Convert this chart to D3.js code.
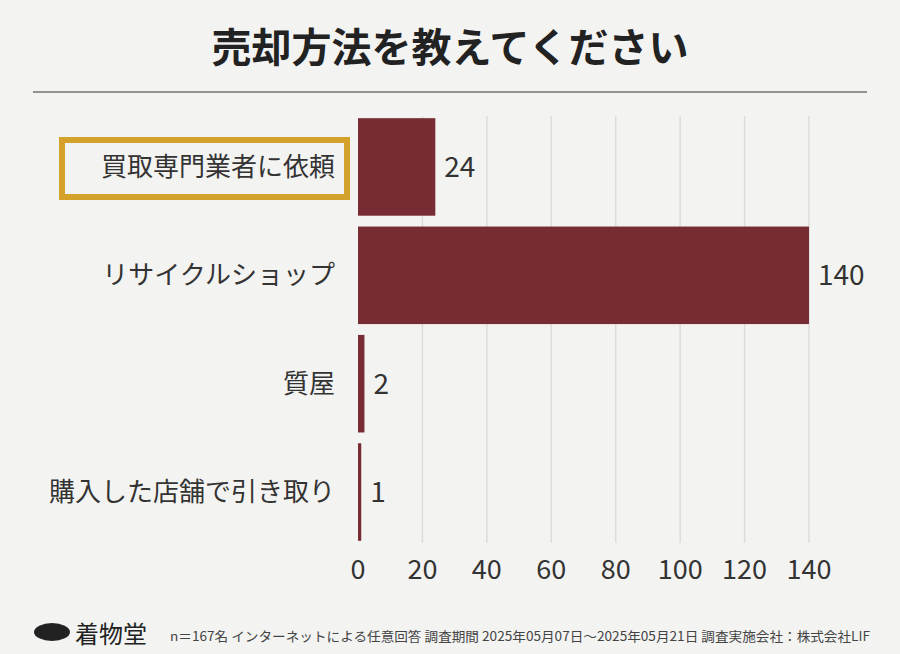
<!DOCTYPE html><html><head><meta charset="utf-8"><script src="https://cdn.jsdelivr.net/npm/d3@7"></script>
<style>body{margin:0;background:#f3f3f2}</style></head><body><svg id="c" width="900" height="654"></svg>
<script>
const categories=["買取専門業者に依頼","リサイクルショップ","質屋","購入した店舗で引き取り"];
const values=[24,140,2,1];
const ticks=[0,20,40,60,80,100,120,140];
const title="売却方法を教えてください";
const footnote="n＝167名 インターネットによる任意回答 調査期間  2025年05月07日～2025年05月21日 調査実施会社：株式会社LIF";
const svg=d3.select("#c");
const F="'Noto Sans CJK JP','Noto Sans',sans-serif";
svg.append("rect").attr("width",900).attr("height",654).attr("fill","#f3f3f2");
svg.append("text").attr("x",450).attr("y",62).attr("text-anchor","middle").attr("font-family",F).attr("font-weight",700).attr("font-size",40).attr("fill","#222").text(title);
svg.append("line").attr("x1",33).attr("x2",867).attr("y1",92).attr("y2",92).attr("stroke","#333").attr("stroke-width",1);
const x=d3.scaleLinear().domain([0,140]).range([358,809]);
const y=d3.scaleBand().domain(categories).range([116,543]).paddingInner(0.1).paddingOuter(0.02);
svg.append("g").selectAll("line").data(ticks.slice(1)).join("line").attr("x1",d=>x(d)).attr("x2",d=>x(d)).attr("y1",116).attr("y2",543).attr("stroke","#dcdcdc").attr("stroke-width",1.5);
svg.append("g").selectAll("rect").data(values).join("rect").attr("x",x(0)).attr("y",(d,i)=>y(categories[i])).attr("width",d=>x(d)-x(0)).attr("height",y.bandwidth()).attr("fill","#772b32");
svg.append("g").selectAll("text").data(values).join("text").attr("x",d=>x(d)+9).attr("y",(d,i)=>y(categories[i])+y.bandwidth()/2+10).attr("font-family",F).attr("font-size",28).attr("fill","#333").text(d=>d);
svg.append("rect").attr("x",62).attr("y",140).attr("width",285).attr("height",57).attr("fill","none").attr("stroke","#d4a12a").attr("stroke-width",6);
svg.append("g").selectAll("text").data(categories).join("text").attr("x",335).attr("y",d=>y(d)+y.bandwidth()/2+9).attr("text-anchor","end").attr("font-family",F).attr("font-size",26).attr("fill","#333").text(d=>d);
svg.append("g").selectAll("text").data(ticks).join("text").attr("x",d=>x(d)).attr("y",579).attr("text-anchor","middle").attr("font-family",F).attr("font-size",27).attr("fill","#333").text(d=>d);
svg.append("ellipse").attr("cx",52).attr("cy",632).attr("rx",18).attr("ry",9).attr("fill","#222");
svg.append("text").attr("x",75).attr("y",643).attr("font-family",F).attr("font-size",24).attr("fill","#222").text("着物堂");
svg.append("text").attr("x",170).attr("y",641).attr("font-family",F).attr("font-size",13).attr("fill","#444").attr("textLength",700).attr("lengthAdjust","spacingAndGlyphs").text(footnote);
</script></body></html>
